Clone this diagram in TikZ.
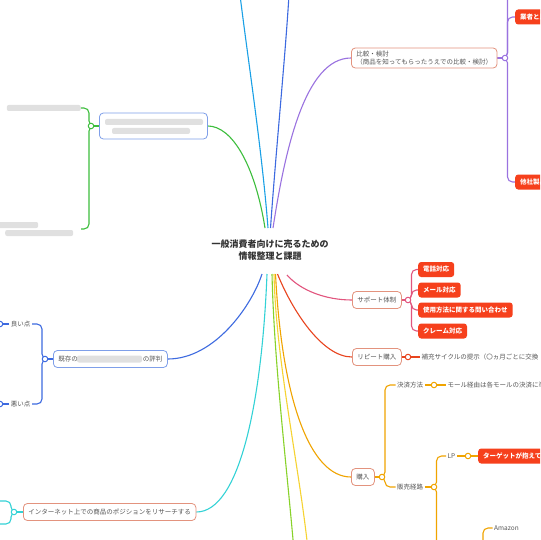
\documentclass[tikz,border=0pt]{standalone}
\usepackage{fontspec}
\setmainfont{Noto Sans CJK JP}
\usetikzlibrary{calc,backgrounds}
\definecolor{cgreen}{HTML}{3DBE3D}
\definecolor{csky}{HTML}{1AA0E6}
\definecolor{cblue}{HTML}{3D6AE0}
\definecolor{cpurple}{HTML}{9A72E0}
\definecolor{cpink}{HTML}{E2557E}
\definecolor{cred}{HTML}{E8441E}
\definecolor{corange}{HTML}{F0A400}
\definecolor{cyellow}{HTML}{F6D332}
\definecolor{clime}{HTML}{88D22A}
\definecolor{cturq}{HTML}{33D2D6}
\definecolor{boxline}{HTML}{E3937E}
\definecolor{boxblue}{HTML}{7F9FE9}
\definecolor{redfill}{HTML}{F6401C}
\definecolor{txt}{HTML}{555555}
\begin{document}
\begin{tikzpicture}[x=1pt,y=-1pt,
  every node/.style={font=\fontsize{6.5}{8}\selectfont, text=txt},
  topic/.style={draw=boxline, line width=0.8pt, rounded corners=4pt, fill=white, inner xsep=5pt, inner ysep=2pt, minimum height=17pt, anchor=west},
  bluebox/.style={topic, draw=boxblue},
  redbox/.style={fill=redfill, rounded corners=3pt, text=white, font=\fontsize{6.5}{8}\selectfont\bfseries, inner xsep=5pt, minimum height=15pt, anchor=west},
  plain/.style={inner xsep=1.5pt, inner ysep=1pt, anchor=west},
  knot/.style={circle, draw, fill=white, line width=1pt, minimum size=5.5pt, inner sep=0pt},
  conn/.style={line width=1.1pt},
  brk/.style={line width=1.1pt, rounded corners=5pt},
  blur/.style={fill=black!16, rounded corners=2pt, draw=none, opacity=0.75, inner sep=0pt}
]
\useasboundingbox (0,0) rectangle (540,540);
\clip (0,0) rectangle (540,540);

% root
\node[font=\fontsize{9}{12}\selectfont\bfseries, text=black!80, align=center] (root) at (270,250) {一般消費者向けに売るための\\情報整理と課題};
\coordinate (rt1) at (265,228);
\coordinate (rt2) at (268,228);
\coordinate (rt3) at (270.5,228);
\coordinate (rt4) at (273,228);
\coordinate (rb1) at (262,274);
\coordinate (rb2) at (267,274);
\coordinate (rb3) at (272,274);
\coordinate (rb4) at (274,274);
\coordinate (rb5) at (275.5,274);
\coordinate (rb6) at (277.5,274);
\coordinate (rb7) at (287,275);

% off-canvas ends
\coordinate (skyend) at (240,-5);
\coordinate (blueend) at (289,-5);
\coordinate (limeend) at (293.5,545);
\coordinate (yelend) at (307.5,545);

% purple branch
\node[topic, align=left, inner ysep=3pt] (cmp) at (351,58) {比較・検討\\（商品を知ってもらったうえでの比較・検討）};
\node[knot, draw=cpurple] (kp) at (505,58) {};
\node[redbox] (gyo) at (515,17) {業者と比較};
\node[redbox] (tasha) at (515,182) {他社製品};
\coordinate (ptop) at (507.5,-8);

% pink branch
\node[topic] (sup) at (352,300) {サポート体制};
\node[knot, draw=cpink] (kpk) at (408,300) {};
\node[redbox] (tel) at (418,269.5) {電話対応};
\node[redbox] (mail) at (418,290) {メール対応};
\node[redbox] (use) at (418,310) {使用方法に関する問い合わせ};
\node[redbox] (claim) at (418,331) {クレーム対応};

% red branch
\node[topic] (rep) at (352,357) {リピート購入};
\node[knot, draw=cred] (kr) at (408,357) {};
\node[plain] (hoju) at (420,357) {補充サイクルの提示（〇ヵ月ごとに交換};

% orange branch
\node[topic] (buy) at (351,477) {購入};
\node[knot, draw=corange] (ko) at (382,477) {};
\node[plain] (pay) at (395.5,385) {決済方法};
\node[knot, draw=corange] (ko2) at (434,385) {};
\node[plain] (mall) at (446,385) {モール経由は各モールの決済に準ずる};
\node[plain] (route) at (395.5,487) {販売経路};
\node[knot, draw=corange] (ko3) at (434,487) {};
\node[plain] (lp) at (446,456) {LP};
\node[knot, draw=corange] (ko4) at (468,456) {};
\node[redbox] (tgt) at (478,456) {ターゲットが抱えている課題};
\node[plain] (amz) at (492.5,528) {Amazon};
\coordinate (obot) at (436.5,548);
\coordinate (amzb) at (483,548);

% turquoise branch
\node[topic] (net) at (23,512) {インターネット上での商品のポジションをリサーチする};
\node[knot, draw=cturq] (kt) at (14,512) {};
\coordinate (tu1) at (-6,501);
\coordinate (tu2) at (-6,524);

% blue lower branch
\node[bluebox] (kison) at (53,359) {既存の\hspace{65pt}の評判};
\node[blur, minimum width=65pt, minimum height=7pt] (kblur) at (109.5,359) {};
\node[knot, draw=cblue] (kb) at (45,359) {};
\node[plain, anchor=east] (good) at (32,324) {良い点};
\node[plain, anchor=east] (bad) at (32,404) {悪い点};
\node[knot, draw=cblue] (kg1) at (0,324) {};
\node[knot, draw=cblue] (kg2) at (0,404) {};

% green branch
\node[bluebox, minimum width=108pt, minimum height=26pt] (gbox) at (99,126) {};
\node[blur, minimum width=98pt, minimum height=6pt] at (154,122) {};
\node[blur, minimum width=78pt, minimum height=6pt] at (151,131) {};
\node[knot, draw=cgreen] (kgr) at (91,126) {};
\node[blur, anchor=east, minimum width=74pt, minimum height=6pt] (gc1) at (81,108) {};
\node[anchor=east, minimum width=74pt, minimum height=16pt, inner sep=0pt] (gc2) at (81,229) {};
\node[blur, minimum width=40pt, minimum height=6pt, anchor=west] at (-2,225) {};
\node[blur, minimum width=68pt, minimum height=6pt, anchor=west] at (5,233) {};

\begin{scope}[on background layer]
  \fill[white] (0,0) rectangle (540,540);
  \clip (0,0) rectangle (540,540);
  % main connectors
  \draw[conn,cgreen] (rt1) .. controls (255,165) and (232,126) .. (gbox.east);
  \draw[conn,csky] (rt2) .. controls (262,150) and (248,60) .. (skyend);
  \draw[conn,cblue] (rt3) .. controls (276,150) and (285,60) .. (blueend);
  \draw[conn,cpurple] (rt4) .. controls (285,150) and (305,58) .. (cmp.west);
  \draw[conn,cblue] (rb1) .. controls (252,305) and (215,359) .. (kison.east);
  \draw[conn,cturq] (rb2) .. controls (262,400) and (240,512) .. (net.east);
  \draw[conn,clime] (rb3) .. controls (274,360) and (286,460) .. (limeend);
  \draw[conn,cyellow] (rb4) .. controls (276,360) and (298,460) .. (yelend);
  \draw[conn,corange] (rb5) .. controls (282,400) and (310,477) .. (buy.west);
  \draw[conn,cred] (rb6) .. controls (292,310) and (322,357) .. (rep.west);
  \draw[conn,cpink] (rb7) .. controls (300,290) and (325,300) .. (sup.west);

  % purple subtree
  \draw[conn,cpurple] (cmp.east) -- (kp);
  \draw[brk,cpurple] (kp.center) -- ++(2.5,0) |- (gyo.west);
  \draw[brk,cpurple] (kp.center) -- ++(2.5,0) |- (tasha.west);
  \draw[brk,cpurple] (kp.center) -- ++(2.5,0) -- (ptop);

  % pink subtree
  \draw[conn,cpink] (sup.east) -- (kpk);
  \foreach \c in {tel,mail,use,claim}
    \draw[brk,cpink] (kpk.center) -- ++(3.5,0) |- (\c.west);

  % red subtree
  \draw[conn,cred] (rep.east) -- (kr);
  \draw[conn,cred] (kr) -- (hoju.west);

  % orange subtree
  \draw[conn,corange] (buy.east) -- (ko);
  \draw[brk,corange] (ko.center) -- ++(3,0) |- (pay.west);
  \draw[brk,corange] (ko.center) -- ++(3,0) |- (route.west);
  \draw[conn,corange] (pay.east) -- (ko2);
  \draw[conn,corange] (ko2) -- (mall.west);
  \draw[conn,corange] (route.east) -- (ko3);
  \draw[brk,corange] (ko3.center) -- ++(2.5,0) |- (lp.west);
  \draw[brk,corange] (ko3.center) -- ++(2.5,0) -- (obot);
  \draw[conn,corange] (lp.east) -- (ko4);
  \draw[conn,corange] (ko4) -- (tgt.west);
  \draw[brk,corange] (amzb) |- (amz.west);

  % turquoise subtree
  \draw[conn,cturq] (net.west) -- (kt);
  \draw[brk,cturq] (kt.center) -- ++(-3,0) |- (tu1);
  \draw[brk,cturq] (kt.center) -- ++(-3,0) |- (tu2);

  % blue lower subtree
  \draw[conn,cblue] (kison.west) -- (kb);
  \draw[brk,cblue] (kb.center) -- ++(-3,0) |- (good.east);
  \draw[brk,cblue] (kb.center) -- ++(-3,0) |- (bad.east);
  \draw[conn,cblue] (good.west) -- (kg1);
  \draw[conn,cblue] (bad.west) -- (kg2);

  % green subtree
  \draw[conn,cgreen] (gbox.west) -- (kgr);
  \draw[brk,cgreen] (kgr.center) -- ++(-2,0) |- (gc1.east);
  \draw[brk,cgreen] (kgr.center) -- ++(-2,0) |- (gc2.east);
\end{scope}
\end{tikzpicture}
\end{document}
